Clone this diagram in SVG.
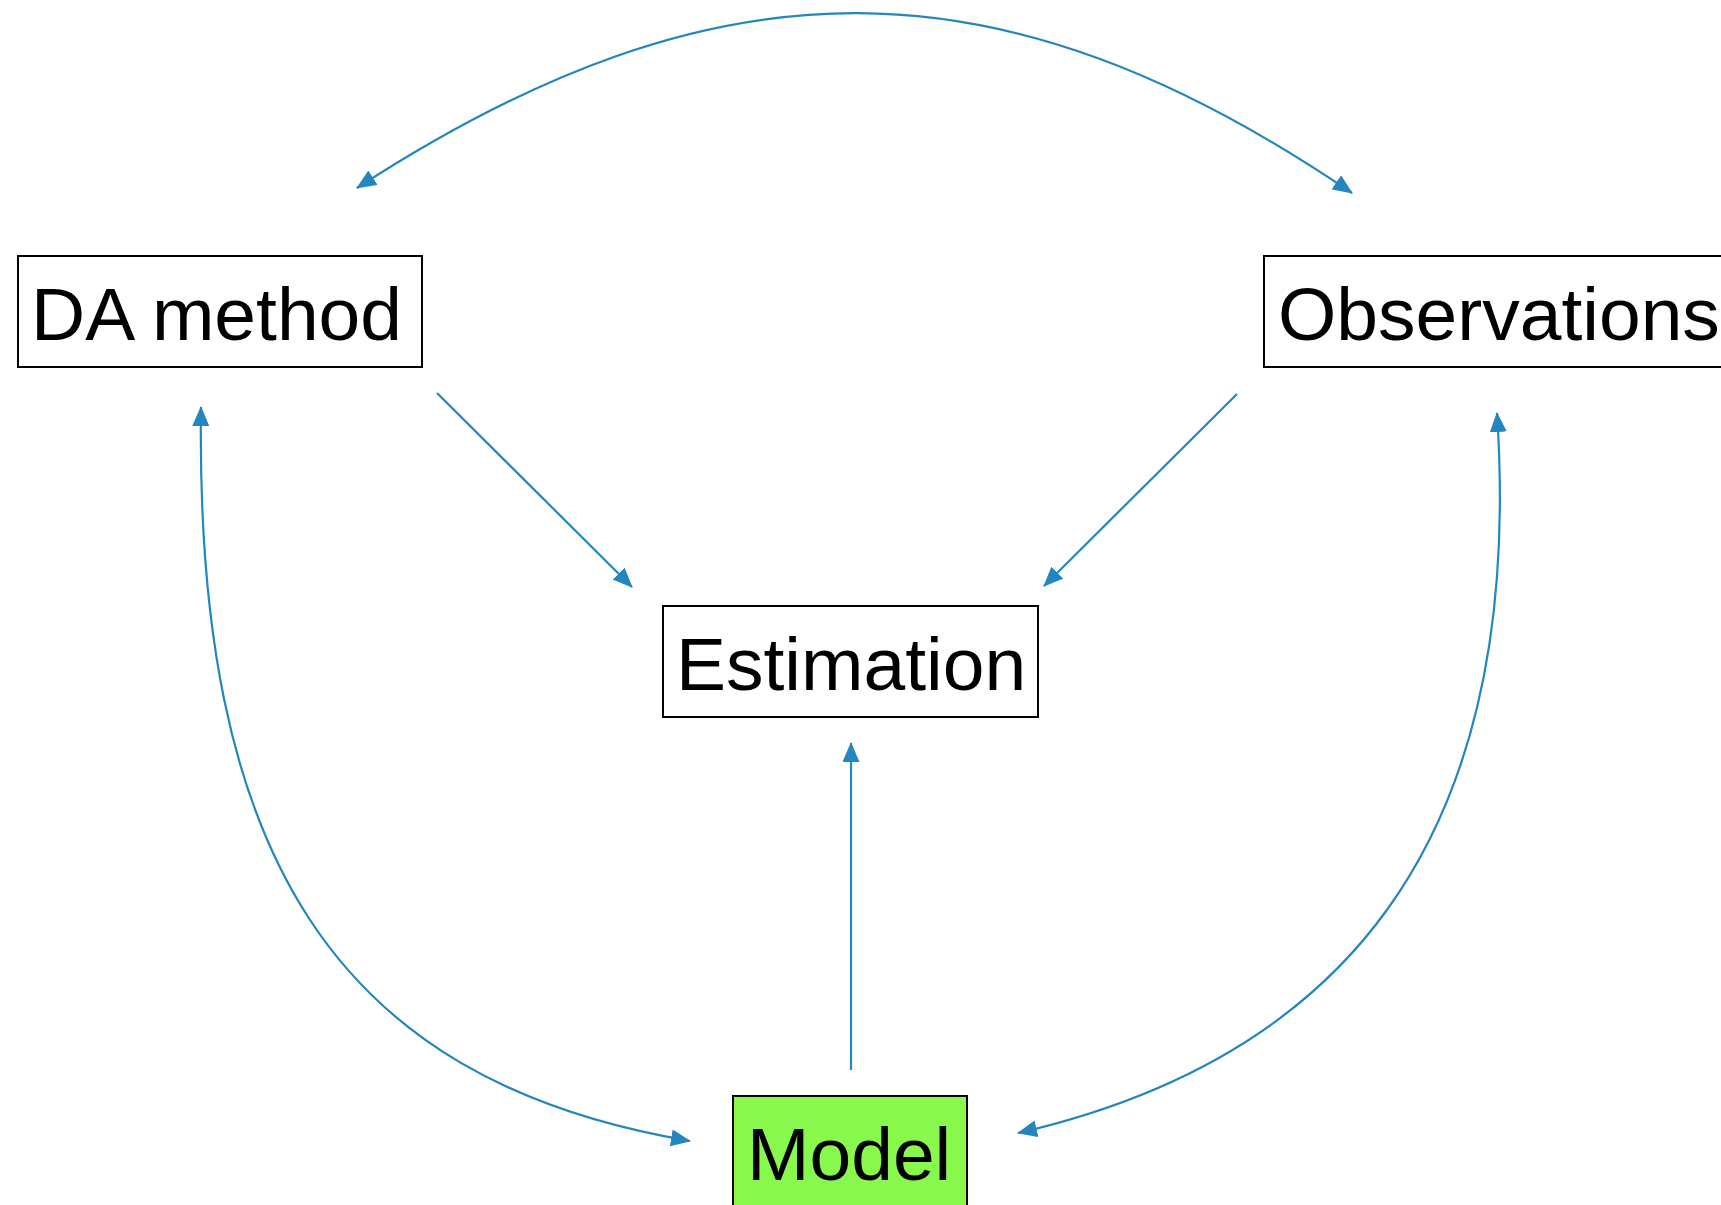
<svg xmlns="http://www.w3.org/2000/svg" width="1721" height="1205" viewBox="0 0 1721 1205">
<style>
.box{fill:#fff;stroke:#000;stroke-width:2}
.lbl{font-family:"Liberation Sans",Arial,sans-serif;font-size:75px;fill:#000}
.edge{fill:none;stroke:#2486bf;stroke-width:2.2}
</style>
<defs>
<marker id="ah" viewBox="0 0 20 17" refX="19" refY="8.5" markerWidth="20" markerHeight="17" markerUnits="userSpaceOnUse" orient="auto-start-reverse">
<path d="M0,0 L20,8.5 L0,17 Z" fill="#2486bf"/>
</marker>
</defs>
<rect width="1721" height="1205" fill="#fff"/>
<g id="n-da">
<rect class="box" x="18" y="256" width="404" height="111"/>
<text class="lbl" x="31" y="340">DA method</text>
</g>
<g id="n-obs">
<rect class="box" x="1264" y="256" width="470" height="111"/>
<text class="lbl" x="1278" y="340">Observations</text>
</g>
<g id="n-est">
<rect class="box" x="663" y="606" width="375" height="111"/>
<text class="lbl" x="676" y="690">Estimation</text>
</g>
<g id="n-model">
<rect x="733" y="1096" width="234" height="130" fill="#88f84d" stroke="#000" stroke-width="2"/>
<text class="lbl" x="747" y="1180">Model</text>
</g>
<g id="connectors">
<path class="edge" d="M357,188 C718,-46 1000,-46 1352,193" marker-start="url(#ah)" marker-end="url(#ah)"/>
<path class="edge" d="M201,407 C195,850 330,1080 690,1141" marker-start="url(#ah)" marker-end="url(#ah)"/>
<path class="edge" d="M1497,413 C1526,850 1335,1060 1018,1133" marker-start="url(#ah)" marker-end="url(#ah)"/>
<path class="edge" d="M437,393 L632,587" marker-end="url(#ah)"/>
<path class="edge" d="M1237,394 L1044,586" marker-end="url(#ah)"/>
<path class="edge" d="M851,1070 L851,743" marker-end="url(#ah)"/>
</g>
</svg>
